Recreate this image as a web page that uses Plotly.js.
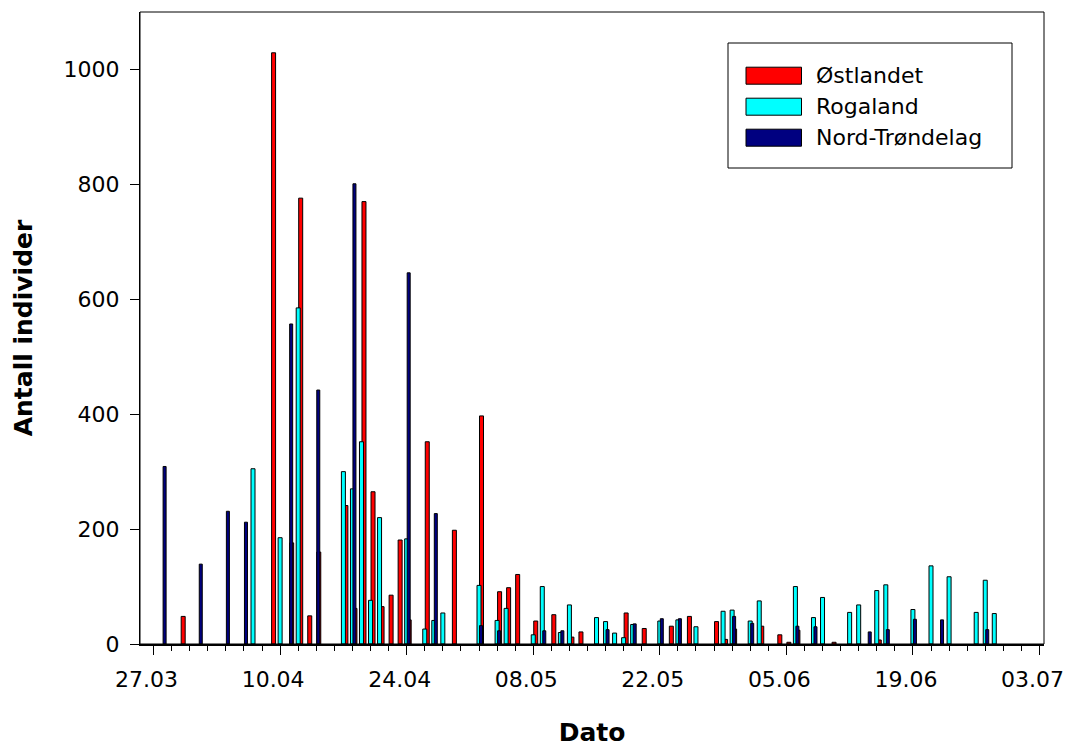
<!DOCTYPE html>
<html><head><meta charset="utf-8">
<script src="https://cdn.plot.ly/plotly-3.0.1.min.js"></script>
<style>html,body{margin:0;padding:0;background:#fff}#chart{width:1066px;height:747px}</style>
</head><body><div id="chart"></div>
<script>
const seriesNames = ['Østlandet', 'Rogaland', 'Nord-Trøndelag'];
const seriesColors = ['#ff0000', '#00ffff', '#000080'];

const ostDates = ['2003-03-30','2003-04-09','2003-04-11','2003-04-12','2003-04-13','2003-04-14','2003-04-17','2003-04-18','2003-04-19','2003-04-20','2003-04-21','2003-04-22','2003-04-23','2003-04-24','2003-04-26','2003-04-29','2003-05-02','2003-05-04','2003-05-05','2003-05-06','2003-05-08','2003-05-10','2003-05-12','2003-05-13','2003-05-18','2003-05-20','2003-05-23','2003-05-25','2003-05-28','2003-05-29','2003-05-30','2003-06-02','2003-06-04','2003-06-05','2003-06-06','2003-06-10','2003-06-15'];
const ostValues = [48,1029,176,776,49,160,241,62,770,265,65,85,181,42,352,198,397,91,98,121,40,51,12,21,54,27,31,48,39,8,26,31,16,3,24,3,7];

const rogDates = ['2003-04-07','2003-04-10','2003-04-12','2003-04-17','2003-04-18','2003-04-19','2003-04-20','2003-04-21','2003-04-24','2003-04-26','2003-04-27','2003-04-28','2003-05-02','2003-05-04','2003-05-05','2003-05-08','2003-05-09','2003-05-11','2003-05-12','2003-05-15','2003-05-16','2003-05-17','2003-05-18','2003-05-19','2003-05-22','2003-05-24','2003-05-26','2003-05-29','2003-05-30','2003-06-01','2003-06-02','2003-06-06','2003-06-08','2003-06-09','2003-06-12','2003-06-13','2003-06-15','2003-06-16','2003-06-19','2003-06-21','2003-06-23','2003-06-26','2003-06-27','2003-06-28'];
const rogValues = [305,185,585,300,270,352,76,220,183,26,41,54,102,41,62,16,100,20,68,46,39,19,11,34,40,42,30,57,59,40,75,100,46,81,55,68,93,103,60,136,117,55,111,53];

const ntrDates = ['2003-03-28','2003-04-01','2003-04-04','2003-04-06','2003-04-11','2003-04-14','2003-04-18','2003-04-24','2003-04-27','2003-05-02','2003-05-04','2003-05-09','2003-05-11','2003-05-16','2003-05-19','2003-05-22','2003-05-24','2003-05-30','2003-06-01','2003-06-06','2003-06-08','2003-06-14','2003-06-16','2003-06-19','2003-06-22','2003-06-27'];
const ntrValues = [309,139,231,212,557,442,801,646,227,32,23,23,23,25,35,44,44,48,36,31,30,21,25,43,42,25];

const xTickDates = ['2003-03-27','2003-04-10','2003-04-24','2003-05-08','2003-05-22','2003-06-05','2003-06-19','2003-07-03'];
const xTickLabels = ['27.03','10.04','24.04','08.05','22.05','05.06','19.06','03.07'];
const yTickVals = [0, 200, 400, 600, 800, 1000];

const DAY = 86400000;
const FONT = 'DejaVu Sans';

// bar geometry (fractions of a day): offset of left edge and width
const barGeom = [
  {offset: 0.055 * DAY, width: 0.4425 * DAY},   // Østlandet
  {offset: -0.221 * DAY, width: 0.4425 * DAY},  // Rogaland
  {offset: 0.055 * DAY, width: 0.332 * DAY}     // Nord-Trøndelag
];

const seriesX = [ostDates, rogDates, ntrDates];
const seriesY = [ostValues, rogValues, ntrValues];

const traces = seriesNames.map((name, i) => ({
  type: 'bar',
  name: name,
  x: seriesX[i],
  y: seriesY[i],
  offset: barGeom[i].offset,
  width: barGeom[i].width,
  marker: {color: seriesColors[i], line: {color: '#000', width: 1}},
  showlegend: false,
  hoverinfo: 'x+y+name'
}));

const M = {l: 140, r: 22, t: 12, b: 103};
const W = 1066, H = 747;
const PW = W - M.l - M.r, PH = H - M.t - M.b;
const px = X => (X - M.l) / PW;
const py = Y => (M.t + PH - Y) / PH;

const shapes = [
  {type: 'rect', xref: 'paper', yref: 'paper', x0: 0, x1: 1, y0: 0, y1: 1, line: {color: '#000', width: 1}},
  {type: 'rect', xref: 'paper', yref: 'paper', x0: px(728), x1: px(1012), y0: py(168), y1: py(43),
   line: {color: '#000', width: 1}, fillcolor: '#fff'}
];
const annotations = [];
seriesNames.forEach((name, i) => {
  const cy = 75.7 + i * 31;
  shapes.push({type: 'rect', xref: 'paper', yref: 'paper', x0: px(746), x1: px(801.5), y0: py(cy + 8.5), y1: py(cy - 8.5),
    line: {color: '#000', width: 1}, fillcolor: seriesColors[i]});
  annotations.push({xref: 'paper', yref: 'paper', x: px(814), y: py(cy), xanchor: 'left', yanchor: 'middle',
    text: name, showarrow: false, font: {family: FONT, size: 22, color: '#000'}});
});

const layout = {
  width: W, height: H,
  margin: M,
  paper_bgcolor: '#fff', plot_bgcolor: '#fff',
  barmode: 'overlay',
  showlegend: false,
  font: {family: FONT, color: '#000'},
  xaxis: {
    type: 'date',
    range: ['2003-03-25 12:00', '2003-07-03 12:00'],
    tickmode: 'array', tickvals: xTickDates, ticktext: xTickLabels,
    ticks: 'outside', ticklen: 9, tickwidth: 1, tickcolor: '#000',
    minor: {tickmode: 'linear', tick0: '2003-03-27', dtick: 2 * DAY, ticks: 'outside', ticklen: 5, tickwidth: 1, tickcolor: '#000', showgrid: false},
    tickfont: {family: FONT, size: 22, color: '#000'},
    ticklabelshift: -7,
    ticklabelstandoff: 6,
    showline: true, linecolor: '#000', linewidth: 2,
    showgrid: false, zeroline: false,
    title: {text: '<b>Dato</b>', font: {family: FONT, size: 25, color: '#000'}, standoff: 51}
  },
  yaxis: {
    range: [0, 1100],
    tickmode: 'array', tickvals: yTickVals,
    ticks: 'outside', ticklen: 9, tickwidth: 1, tickcolor: '#000',
    tickfont: {family: FONT, size: 22, color: '#000'},
    ticklabelstandoff: 6,
    showline: true, linecolor: '#000', linewidth: 1,
    showgrid: false, zeroline: false,
    title: {text: '<b>Antall individer</b>', font: {family: FONT, size: 25, color: '#000'}, standoff: 23}
  },
  shapes: shapes,
  annotations: annotations
};

Plotly.newPlot('chart', traces, layout, {displayModeBar: false, staticPlot: true});
</script>
</body></html>
